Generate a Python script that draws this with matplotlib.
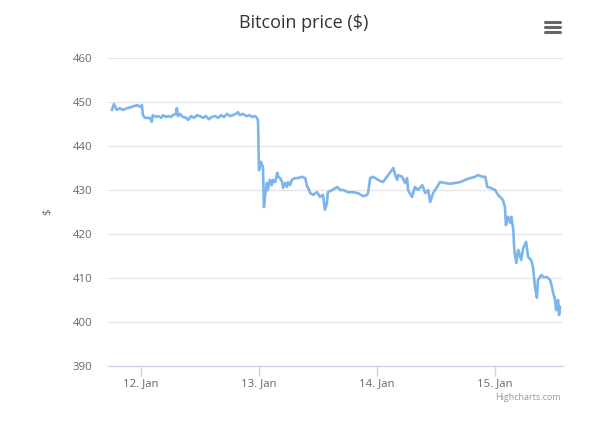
import matplotlib
matplotlib.use("Agg")
import matplotlib.pyplot as plt
import numpy as np

# hours since 2014-01-12 00:00
hours = [-5.9, -5.5, -4.9, -4.3, -3.7, -2.8, -1.8, -0.8, -0.2, 0.2, 0.4, 0.8, 1.8, 2.2, 2.4,
         3.1, 3.5, 4.1, 4.5, 5.1, 5.5, 6.1, 6.5, 7.1, 7.3, 7.5, 7.9, 8.5, 9.2, 9.6, 10.2,
         10.8, 11.4, 12.0, 12.6, 13.2, 13.8, 14.4, 15.1, 15.7, 16.3, 16.9, 17.5, 18.1, 18.7,
         19.3, 19.7, 20.1, 20.7, 21.4, 22.0, 22.6, 23.2, 23.6, 23.8, 24.0, 24.4, 24.8, 25.0,
         25.2, 25.6, 25.8, 26.2, 26.6, 26.8, 27.3, 27.7, 27.9, 28.3, 28.7, 28.9, 29.3, 29.7,
         29.9, 30.3, 30.7, 31.3, 31.9, 32.7, 33.4, 33.8, 34.0, 34.4, 35.0, 35.8, 36.4, 37.0,
         37.4, 37.8, 38.0, 38.9, 39.9, 40.5, 41.1, 42.1, 43.1, 44.1, 45.2, 46.0, 46.2, 46.6,
         47.2, 48.2, 49.2, 50.0, 50.6, 51.3, 51.7, 52.1, 52.3, 53.1, 53.7, 54.1, 54.3, 55.1,
         55.7, 56.3, 57.2, 57.8, 58.4, 58.8, 59.4, 60.2, 60.8, 61.8, 62.8, 63.9, 64.9, 65.9,
         66.9, 67.9, 68.5, 69.4, 70.0, 70.4, 71.0, 72.0, 72.6, 73.6, 74.0, 74.2, 74.6, 75.1,
         75.3, 75.7, 75.9, 76.3, 76.7, 77.3, 77.7, 78.3, 78.7, 79.3, 79.7, 80.1, 80.5, 80.7,
         81.4, 81.8, 82.6, 83.2, 83.6, 83.8, 84.2, 84.4, 84.8, 85.0, 85.2]
prices = [448.2, 449.5, 448.2, 448.6, 448.2, 448.6, 448.9, 449.3, 448.9, 449.3, 447.0, 446.4,
          446.4, 445.5, 447.0, 446.6, 446.8, 446.4, 447.0, 446.6, 446.8, 446.6, 447.0, 447.3,
          448.6, 446.8, 447.3, 446.6, 446.4, 445.9, 446.8, 446.4, 447.0, 446.8, 446.4, 446.8,
          446.1, 446.6, 446.8, 446.4, 447.0, 446.6, 447.3, 446.8, 447.0, 447.3, 447.7, 447.0,
          447.3, 446.8, 447.0, 446.6, 446.8, 446.4, 445.7, 434.5, 436.4, 435.2, 426.1, 428.4,
          431.6, 430.0, 432.3, 431.1, 432.3, 431.8, 433.9, 433.0, 432.7, 431.8, 430.5, 431.6,
          430.7, 431.8, 431.1, 432.3, 432.7, 432.7, 433.0, 432.7, 430.7, 430.5, 429.3, 428.9,
          429.5, 428.4, 428.9, 425.5, 427.0, 429.5, 430.0, 430.7, 430.0, 430.0, 429.5, 429.5,
          429.3, 428.6, 428.9, 429.5, 432.7, 433.0, 432.3, 431.8, 433.0, 433.9, 435.0, 433.4,
          432.3, 433.4, 433.0, 431.6, 432.7, 430.0, 428.4, 430.7, 430.0, 431.1, 429.3, 430.0,
          427.3, 429.3, 430.7, 431.8, 431.6, 431.4, 431.6, 431.8, 432.3, 432.7, 433.0, 433.4,
          433.0, 433.0, 430.7, 430.5, 430.0, 428.9, 427.7, 426.1, 422.0, 423.9, 422.5, 423.9,
          420.9, 416.4, 413.4, 416.4, 414.1, 416.8, 418.2, 414.8, 414.1, 412.5, 408.0, 405.5,
          409.5, 410.7, 410.2, 410.2, 409.5, 407.7, 406.6, 405.0, 402.7, 405.0, 401.6, 403.4]

x_ticks = [0, 24, 48, 72]
x_labels = ["12. Jan", "13. Jan", "14. Jan", "15. Jan"]
y_ticks = [390, 400, 410, 420, 430, 440, 450, 460]

FONT = "Open Sans"
W, H = 600, 428
fig = plt.figure(figsize=(W / 100, H / 100), dpi=100)
L, R, T, B = 108, 563, 58, 366
ax = fig.add_axes([L / W, 1 - B / H, (R - L) / W, (B - T) / H])

ax.plot(hours, prices, color="#7cb5ec", lw=1.9, solid_joinstyle="round")

ax.set_xlim(-6.7, 85.8)
ax.set_ylim(390, 460)
ax.set_yticks(y_ticks)
ax.set_xticks(x_ticks)
ax.set_xticklabels(x_labels)
ax.grid(axis="y", color="#e6e6e6", lw=1)
ax.set_axisbelow(True)
for s in ["top", "right", "left"]:
    ax.spines[s].set_visible(False)
ax.spines["bottom"].set_color("#ccd6eb")
ax.spines["bottom"].set_linewidth(1)
ax.tick_params(axis="x", colors="#ccd6eb", length=7, width=1, pad=2, labelcolor="#666666",
               labelsize=8.2)
ax.tick_params(axis="y", length=0, pad=11, labelcolor="#666666", labelsize=8.2)
for lab in ax.get_xticklabels() + ax.get_yticklabels():
    lab.set_fontfamily(FONT)

ax.set_ylabel("$", family=FONT, fontsize=8.2, color="#666666", labelpad=14)

fig.text(304 / W, 1 - 23 / H, "Bitcoin price ($)", ha="center", va="center",
         family=FONT, fontsize=13, color="#333333")
fig.text(561 / W, 1 - 397 / H, "Highcharts.com", ha="right", va="center",
         family=FONT, fontsize=6.5, color="#999999")

# menu icon
for yy in [22, 27, 32]:
    fig.add_artist(plt.Line2D([545 / W, 560 / W], [1 - yy / H, 1 - yy / H],
                              color="#666666", lw=2.2, solid_capstyle="round",
                              transform=fig.transFigure))

fig.savefig("out.png", dpi=100)
